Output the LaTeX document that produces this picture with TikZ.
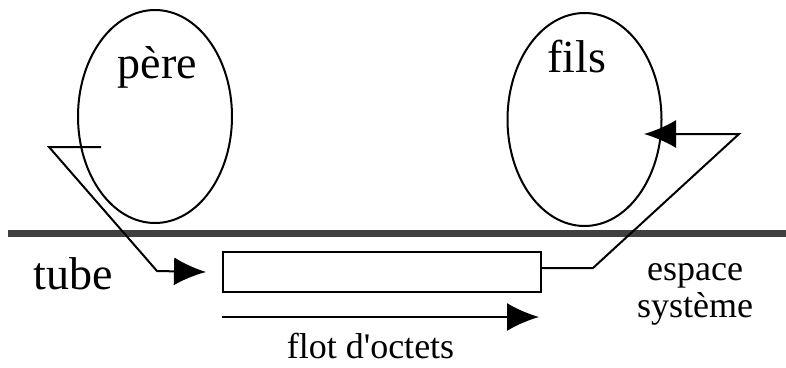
\documentclass[tikz,border=0pt]{standalone}
\usepackage{fontspec}
\setmainfont{Liberation Serif}
\usetikzlibrary{arrows.meta,positioning,shapes.geometric}

\begin{document}
\begin{tikzpicture}[x=1pt, y=-1pt, node distance=1cm, on grid, line width=2pt,
	proc/.style={draw, ellipse, minimum width=154pt, minimum height=213pt, inner sep=0pt},
	big/.style={font=\fontsize{46}{50}\selectfont, inner sep=0pt, anchor=base},
	small/.style={font=\fontsize{36}{37}\selectfont, inner sep=0pt, anchor=base},
	flow/.style={-{Latex[length=32pt, width=28pt]}}]
	\useasboundingbox (0,0) rectangle (786,367);

	% processes
	\node	(pere)	[proc] at (155,116.5)				{};
	\node	(fils)	[proc, right=429.5pt of pere, yshift=-3pt]	{};
	\node	(pereTxt)	[big] at (157.5,78)			{père};
	\node	(filsTxt)	[big] at (576.5,72)			{fils};

	% system space
	\coordinate	(barL)	at (8,233);
	\coordinate	(barR)	at (786,233);
	\draw [line width=7pt, black!75] (barL) -- (barR);

	\node	(tube)	[draw, minimum width=318pt, minimum height=40pt, inner sep=0pt] at (382,272) {};
	\node	(tubeTxt)	[big] at (73,289)				{tube};
	\node	(sysTxt)	[small, align=center] at (695,317)	{espace\\système};

	% connectors
	\coordinate	(pIn)	at (101,147);
	\coordinate	(pOut)	at (49,147);
	\coordinate	(pLow)	at (157,271);
	\coordinate	(fLow)	at (593,268);
	\coordinate	(fOut)	at (739,134);
	\coordinate	(fIn)	at (644,134);

	\draw [flow] (pIn) -- (pOut) -- (pLow) -- ([xshift=-16pt]tube.west);
	\draw [flow] ([yshift=4pt]tube.east) -- (fLow) -- (fOut) -- (fIn);

	% byte stream
	\coordinate	(flowL)	at (222,317);
	\coordinate	(flowR)	at (539,317);
	\draw [flow] (flowL) -- (flowR);
	\node	(flotTxt)	[small] at (370.5,358)		{flot d\textquotesingle octets};
\end{tikzpicture}
\end{document}
